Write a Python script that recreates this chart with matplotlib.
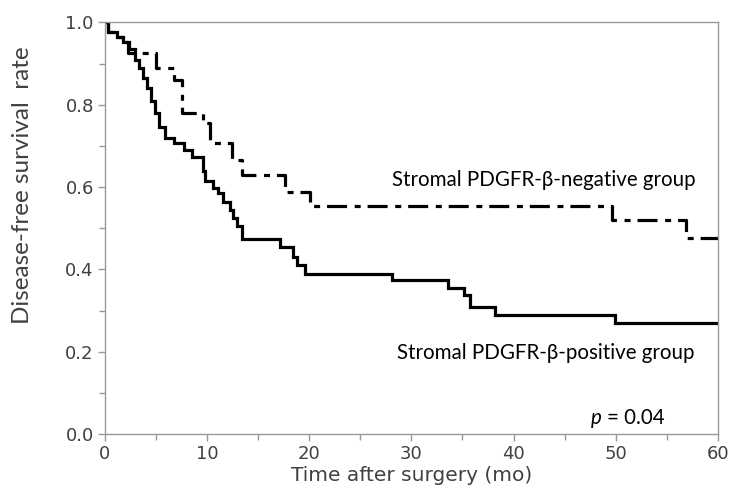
import matplotlib
matplotlib.use("Agg")
import matplotlib.pyplot as plt
from matplotlib.ticker import MultipleLocator

plt.rcParams["lines.scale_dashes"] = False

# Kaplan-Meier steps: (time in months, survival after the drop)
pos_times = [0.0, 0.3, 1.2, 1.8, 2.4, 2.9, 3.3, 3.7, 4.1, 4.5, 4.9, 5.3, 5.9, 6.8,
             7.7, 8.5, 9.6, 9.8, 10.6, 11.1, 11.6, 12.2, 12.5, 12.9, 13.4, 17.1,
             18.4, 18.8, 19.6, 28.1, 33.6, 35.1, 35.7, 38.2, 49.9, 60.0]
pos_surv = [1.0, 0.977, 0.965, 0.953, 0.935, 0.91, 0.89, 0.865, 0.84, 0.81, 0.78, 0.745,
            0.72, 0.707, 0.69, 0.672, 0.64, 0.615, 0.598, 0.585, 0.565, 0.545, 0.525,
            0.505, 0.473, 0.455, 0.43, 0.41, 0.388, 0.374, 0.355, 0.338, 0.31, 0.289,
            0.269, 0.269]

neg_times = [0.0, 0.3, 1.2, 1.8, 2.3, 5.0, 6.8, 7.5, 9.6, 10.3, 12.4, 13.4, 17.6,
             20.1, 49.6, 56.9, 60.0]
neg_surv = [1.0, 0.977, 0.965, 0.953, 0.927, 0.889, 0.86, 0.78, 0.755, 0.707, 0.666,
            0.63, 0.589, 0.555, 0.52, 0.476, 0.476]

x_ticks = [0, 10, 20, 30, 40, 50, 60]
y_ticks = [0.0, 0.2, 0.4, 0.6, 0.8, 1.0]

fig = plt.figure(figsize=(7.34, 4.99), dpi=100)
ax = fig.add_axes([0.143, 0.130, 0.835, 0.825])

ax.step(pos_times, pos_surv, where="post", color="black", lw=2.3,
        solid_joinstyle="miter")
ax.step(neg_times, neg_surv, where="post", color="black", lw=2.3,
        dashes=(14.4, 5.5, 4.3, 5.0), dash_capstyle="butt")

ax.set_xlim(0, 60)
ax.set_ylim(0, 1.0)
ax.set_xticks(x_ticks)
ax.set_yticks(y_ticks)
ax.set_yticklabels([f"{v:.1f}" for v in y_ticks])
ax.xaxis.set_minor_locator(MultipleLocator(5))
ax.yaxis.set_minor_locator(MultipleLocator(0.1))

grey = "#9a9a9a"
for s in ax.spines.values():
    s.set_color(grey)
    s.set_linewidth(1.0)
ax.tick_params(which="both", direction="out", color=grey, width=1.0,
               labelsize=13, labelcolor="#404040")
ax.tick_params(which="major", length=5, pad=3)
ax.tick_params(which="minor", length=4)
ax.tick_params(axis="x", which="both", top=False)
ax.tick_params(axis="y", which="both", right=False)

ax.set_xlabel("Time after surgery (mo)", fontsize=14.5, color="#404040", labelpad=2)
ax.set_ylabel("Disease-free survival  rate", fontsize=17.5, family="Lato",
              color="#404040")
ax.yaxis.set_label_coords(-0.118, 0.605)

ax.text(28.1, 0.618, "Stromal PDGFR-β-negative group", fontsize=14.8,
        family="Lato", va="center", ha="left")
ax.text(28.6, 0.197, "Stromal PDGFR-β-positive group", fontsize=14.8,
        family="Lato", va="center", ha="left")
ax.text(54.8, 0.039, "= 0.04", fontsize=14.8, family="Lato", va="center", ha="right")
ax.text(48.6, 0.039, "p", fontsize=14.8, family="Lato", style="italic",
        va="center", ha="right")

fig.savefig("out.png", dpi=100)
